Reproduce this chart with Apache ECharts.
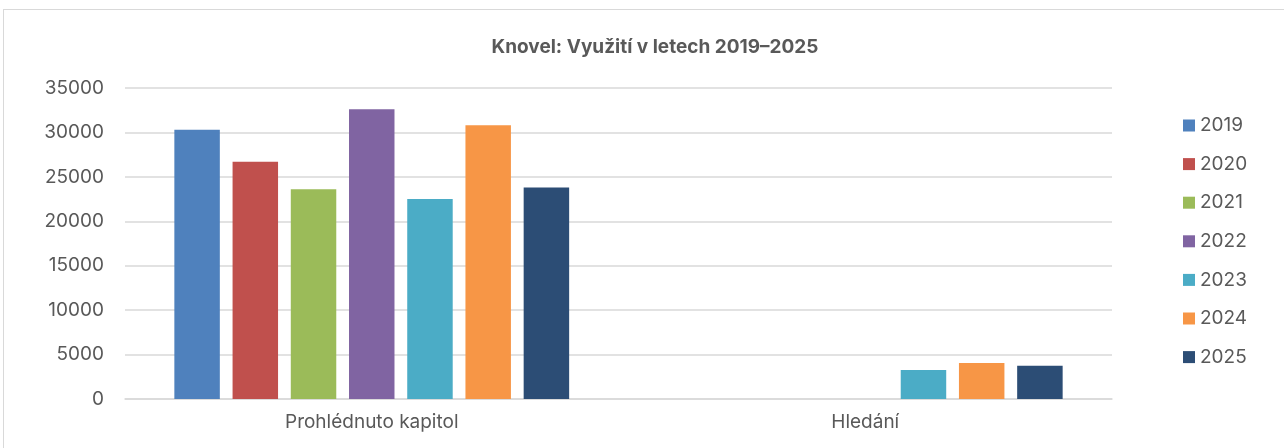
<!DOCTYPE html>
<html>
<head>
<meta charset="utf-8">
<script src="https://cdn.jsdelivr.net/npm/echarts@6/dist/echarts.min.js"></script>
<style>
  html, body { margin: 0; padding: 0; background: #fff; }
  #frame { position: absolute; left: 3px; top: 9px; width: 1290px; height: 450px; border: 1px solid #d9d9d9; }
  #chart { position: absolute; left: 0; top: 0; width: 1284px; height: 448px; }
</style>
</head>
<body>
<div id="frame"></div>
<div id="chart"></div>
<script>
'use strict';
// kategorie a hodnoty
var categories = ['Prohlédnuto kapitol', 'Hledání'];
var years = ['2019', '2020', '2021', '2022', '2023', '2024', '2025'];
var colors = ['#4f81bd', '#c0504d', '#9bbb59', '#8064a2', '#4bacc6', '#f79646', '#2c4d75'];
var v2019 = [30300, null];
var v2020 = [26700, null];
var v2021 = [23600, null];
var v2022 = [32600, null];
var v2023 = [22500, 3250];
var v2024 = [30800, 4050];
var v2025 = [23800, 3750];
var yTicks = [0, 35000, 5000]; // min, max, interval

var values = [v2019, v2020, v2021, v2022, v2023, v2024, v2025];
var fontFamily = 'Inter, "Noto Sans", sans-serif';
var textColor = '#595959';

var chart = echarts.init(document.getElementById('chart'));

var series = [];
for (var i = 0; i < years.length; i++) {
    series.push({
        name: years[i],
        type: 'bar',
        data: values[i],
        itemStyle: { color: colors[i] },
        barGap: '28%',
        barCategoryGap: '20%'
    });
}

chart.setOption({
    animation: false,
    title: {
        text: 'Knovel: Využití v letech 2019–2025',
        left: 650,
        textAlign: 'center',
        top: 33,
        textStyle: {
            fontFamily: fontFamily,
            fontSize: 19,
            fontWeight: 'bold',
            color: textColor
        }
    },
    legend: {
        orient: 'vertical',
        left: 1178,
        top: 111,
        itemWidth: 12,
        itemHeight: 12,
        itemGap: 19.6,
        icon: 'rect',
        data: years,
        textStyle: {
            fontFamily: fontFamily,
            fontSize: 19,
            color: textColor
        }
    },
    grid: {
        left: 125,
        right: 172,
        top: 88,
        bottom: 49
    },
    xAxis: {
        type: 'category',
        data: categories,
        axisTick: { show: false },
        axisLine: { lineStyle: { color: '#d9d9d9', width: 1.5 } },
        axisLabel: {
            fontFamily: fontFamily,
            fontSize: 19,
            color: textColor,
            margin: 14
        }
    },
    yAxis: {
        type: 'value',
        min: yTicks[0],
        max: yTicks[1],
        interval: yTicks[2],
        axisLine: { show: false },
        axisTick: { show: false },
        splitLine: { lineStyle: { color: '#d9d9d9', width: 1.5 } },
        axisLabel: {
            fontFamily: fontFamily,
            fontSize: 19,
            color: textColor,
            margin: 21,
            formatter: function(v) { return String(v); }
        }
    },
    series: series
});
</script>
</body>
</html>
